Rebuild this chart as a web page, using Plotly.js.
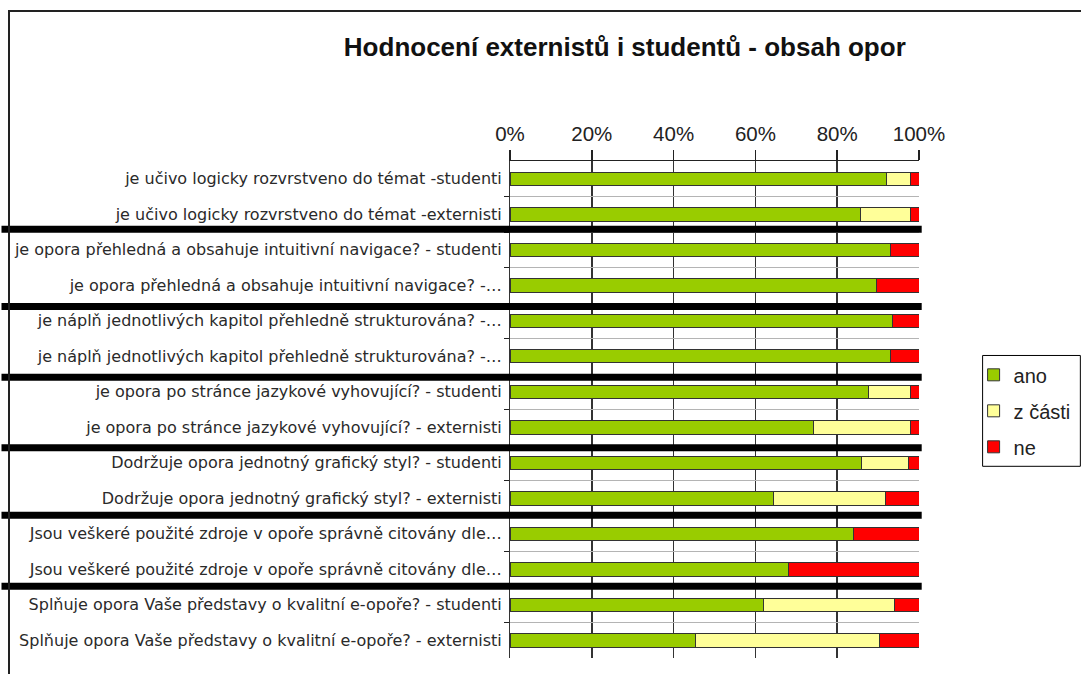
<!DOCTYPE html>
<html>
<head>
<meta charset="utf-8">
<script src="https://cdn.plot.ly/plotly-3.0.1.min.js"></script>
<style>
html,body{margin:0;padding:0;background:#fff;overflow:hidden;}
#wrap{position:relative;width:1081px;height:674px;overflow:hidden;}
#chart{width:1081px;height:674px;}
#frame{position:absolute;left:8px;top:10px;width:1200px;height:800px;border-left:2px solid #222;border-top:2px solid #222;pointer-events:none;z-index:10;}
</style>
</head>
<body>
<div id="wrap">
<div id="chart"></div>
<div id="frame"></div>
</div>
<script>
const categories = [
  "je učivo logicky rozvrstveno do témat -studenti",
  "je učivo logicky rozvrstveno do témat -externisti",
  "je opora přehledná a obsahuje intuitivní navigace? - studenti",
  "je opora přehledná a obsahuje intuitivní navigace? -…",
  "je náplň jednotlivých kapitol přehledně strukturována? -…",
  "je náplň jednotlivých kapitol přehledně strukturována? -…",
  "je opora po stránce jazykové vyhovující? - studenti",
  "je opora po stránce jazykové vyhovující? - externisti",
  "Dodržuje opora jednotný grafický styl? - studenti",
  "Dodržuje opora jednotný grafický styl? - externisti",
  "Jsou veškeré použité zdroje v opoře správně citovány dle…",
  "Jsou veškeré použité zdroje v opoře správně citovány dle…",
  "Splňuje opora Vaše představy o kvalitní e-opoře? - studenti",
  "Splňuje opora Vaše představy o kvalitní e-opoře? - externisti"
];
const seriesNames = ["ano", "z části", "ne"];
const ano   = [92.0, 85.6, 93.0, 89.6, 93.5, 93.0, 87.7, 74.1, 86.0, 64.5, 84.1, 68.0, 62.1, 45.4];
const zCasti = [5.9, 12.3, 0, 0, 0, 0, 10.2, 23.8, 11.5, 27.4, 0, 0, 31.8, 45.0];
const ne    = [2.1, 2.1, 7.0, 10.4, 6.5, 7.0, 2.1, 2.1, 2.5, 8.1, 15.9, 32.0, 6.1, 9.6];
const xTickVals = [0, 20, 40, 60, 80, 100];
const xTickText = ["0%", "20%", "40%", "60%", "80%", "100%"];
// group separators (between question pairs), in row-index units
const separators = [1.42, 3.6, 5.59, 7.58, 9.48, 11.48];

const rowIdx = categories.map((_, i) => i);
const boundaries = categories.slice(1).map((_, i) => i + 0.5);
const colors = ["#99CC00", "#FFFF99", "#FF0000"];
const FONT = "Liberation Sans, Arial, sans-serif";

const traces = [ano, zCasti, ne].map((vals, k) => ({
  type: "bar",
  orientation: "h",
  name: seriesNames[k],
  legendgroup: "g" + k,
  x: vals,
  y: rowIdx,
  marker: {color: colors[k], line: {color: "#333333", width: 1}},
  hoverinfo: "x+name"
}));

const shapes = [];
// legend box
shapes.push({type: "rect", xref: "paper", yref: "paper", x0: 1.1555, x1: 1.3945, y0: 0.3857, y1: 0.6087,
  line: {color: "#000000", width: 1}});
separators.forEach(s => shapes.push({type: "line", xref: "paper", yref: "y",
  x0: -1.2433, x1: 1.0066, y0: s, y1: s, line: {color: "#000000", width: 7}}));

const layout = {
  width: 1081, height: 674,
  margin: {l: 509.5, r: 161.7, t: 160.5, b: 16, pad: 0, autoexpand: false},
  paper_bgcolor: "#ffffff", plot_bgcolor: "#ffffff",
  barmode: "stack",
  bargap: 0.62,
  font: {family: FONT, color: "#222222"},
  title: {text: "<b>Hodnocení externistů i studentů - obsah opor</b>",
    font: {family: FONT, size: 26, color: "#111111"},
    x: 0.578, xref: "container", xanchor: "center", y: 0.931, yref: "container", yanchor: "middle"},
  xaxis: {side: "top", range: [0, 100], tickmode: "array", tickvals: xTickVals, ticktext: xTickText,
    ticks: "outside", ticklen: 10, tickwidth: 1.5, tickcolor: "#222222",
    showline: true, linecolor: "#222222", linewidth: 1.5,
    showgrid: true, gridcolor: "#333333", gridwidth: 1.5, zeroline: false,
    tickfont: {size: 20.5, color: "#222222", family: FONT}, fixedrange: true},
  yaxis: {range: [13.5, -0.5], tickmode: "array", tickvals: rowIdx, ticktext: categories,
    ticks: "", showgrid: false, zeroline: false, showline: true, linecolor: "#333333", linewidth: 1,
    tickfont: {size: 16, color: "#2a2a2a", family: "DejaVu Sans, sans-serif"}, ticklabelstandoff: 4, fixedrange: true},
  yaxis2: {overlaying: "y", side: "left", range: [13.5, -0.5], tickmode: "array", tickvals: boundaries,
    showticklabels: false, ticks: "outside", ticklen: 5, tickcolor: "#222222",
    showgrid: true, gridcolor: "#b4b4b4", gridwidth: 1, zeroline: false, fixedrange: true},
  showlegend: true,
  legend: {x: 1.1335, xanchor: "left", y: 0.609, yanchor: "top", bgcolor: "rgba(0,0,0,0)",
    borderwidth: 0, tracegroupgap: 7, font: {size: 20, color: "#222222", family: FONT}},
  shapes: shapes
};

// dummy trace to activate yaxis2 gridlines
traces.push({type: "scatter", x: [null], y: [null], yaxis: "y2", showlegend: false, hoverinfo: "skip"});

Plotly.newPlot("chart", traces, layout, {displayModeBar: false, staticPlot: true});
</script>
</body>
</html>
